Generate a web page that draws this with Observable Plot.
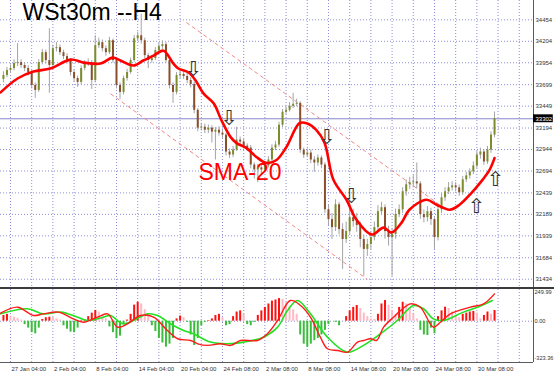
<!DOCTYPE html>
<html>
<head>
<meta charset="utf-8">
<script src="https://cdn.jsdelivr.net/npm/d3@7"></script>
<script src="https://cdn.jsdelivr.net/npm/@observablehq/plot@0.6"></script>
<style>
html,body{margin:0;padding:0;background:#fff;}
#chart{width:554px;height:373px;overflow:hidden;background:#fff;}
#chart svg{display:block;}
.sep{width:554px;height:2px;background:#3c3c3c;}
</style>
</head>
<body>
<div id="chart"></div>
<script>
// ---- Data ----
const title = "WSt30m --H4";
const priceTicks = [34454,34204,33954,33699,33449,33194,32944,32694,32439,32189,31939,31684,31434];
const currentPrice = 33302;
const timeLabels = ["27 Jan 04:00","2 Feb 04:00","8 Feb 04:00","14 Feb 04:00","20 Feb 04:00","24 Feb 08:00","2 Mar 08:00","8 Mar 08:00","14 Mar 08:00","20 Mar 08:00","24 Mar 08:00","30 Mar 08:00"];
const timeLabelBars = [2,14,26,38,50,62,74,86,98,110,122,134];
const gridBars = [2,8,14,20,26,32,38,44,50,56,62,68,74,80,86,92,98,104,110,116,122,128,134,140,146];

const O = [33760,33806,33864,33887,33945,33956,33922,33887,33841,33690,
33632,33956,34072,33980,33922,34118,34130,34072,34026,33980,
33841,33771,33725,33887,33945,33956,33748,34153,34188,34118,
34072,34211,33980,33690,33609,33771,33841,33980,34234,34269,
34211,34037,33980,34003,34095,34142,34165,33980,33690,33609,
33806,33818,33794,33748,33702,33401,33193,33204,33169,33193,
33146,33169,33135,33112,32915,32880,32938,33054,33031,32984,
32961,32764,32706,32730,32706,32753,32822,32961,32996,33227,
33378,33401,33447,33470,33482,32938,32880,32903,32822,32787,
32845,32764,32243,32128,32035,32301,32012,31896,31989,32151,
32105,32058,31896,31781,31838,31919,32035,32220,32267,31989,
31919,31954,32186,32243,32452,32533,32556,32567,32544,32186,
32151,32220,32128,31919,32243,32382,32452,32498,32521,32498,
32440,32591,32637,32683,32753,32880,32915,32799,32938,33112];
const H = [33850,33900,33930,33990,34176,33990,33950,33920,33870,33720,
33990,34110,34100,34350,34160,34190,34160,34100,34060,34000,
33870,33800,33920,33980,34000,33980,34269,34240,34220,34150,
34250,34230,34000,33720,33800,33880,34010,34270,34310,34520,
34240,34060,34040,34130,34180,34210,34190,34000,33720,33840,
33860,33850,33830,33780,33730,33420,33250,33240,33230,33220,
33200,33210,33170,33130,32950,32980,33204,33090,33060,33010,
32990,32790,32770,32760,32790,32860,33000,33040,33260,33410,
33440,33490,33598,33530,33500,32960,32950,32940,32860,32880,
32870,32790,32300,32200,32359,32330,32080,32100,32330,32250,
32200,32100,31950,31900,31980,32100,32290,32330,32300,32050,
32020,32250,32300,32500,32590,32620,32640,32787,32570,32240,
32280,32260,32150,32290,32430,32500,32560,32570,32560,32530,
32630,32680,32720,32800,32920,32960,32940,32980,33150,33380];
const L = [33720,33780,33830,33860,33910,33890,33850,33800,33650,33540,
33610,33930,33940,33598,33900,34080,34040,33990,33940,33800,
33730,33667,33700,33860,33910,33644,33720,34120,34080,34030,
34050,33950,33650,33528,33580,33740,33820,33960,34200,34170,
34000,33887,33950,33980,34060,34110,33950,33650,33482,33580,
33770,33760,33710,33660,33360,33150,33160,33130,33130,33020,
32822,33100,33070,32870,32840,32850,32920,32990,32950,32920,
32720,32600,32556,32660,32680,32730,32800,32930,32970,33200,
33350,33380,33420,33440,32900,32840,32850,32780,32680,32750,
32720,32200,32060,31896,31990,31950,31549,31850,31950,32040,
31980,31800,31468,31700,31780,31880,31990,32180,31900,31820,
31468,31900,32150,32200,32400,32480,32500,32490,32130,32090,
32100,32060,31781,31880,32200,32340,32420,32460,32450,32400,
32410,32560,32600,32650,32720,32830,32760,32770,32900,33080];
const C = [33806,33864,33887,33945,33956,33922,33887,33841,33690,33632,
33956,34072,33980,33922,34118,34130,34072,34026,33980,33841,
33771,33725,33887,33945,33956,33748,34153,34188,34118,34072,
34211,33980,33690,33609,33771,33841,33980,34234,34269,34211,
34037,33980,34003,34095,34142,34165,33980,33690,33609,33806,
33818,33794,33748,33702,33401,33193,33204,33169,33193,33146,
33169,33135,33112,32915,32880,32938,33054,33031,32984,32961,
32764,32706,32730,32706,32753,32822,32961,32996,33227,33378,
33401,33447,33470,33482,32938,32880,32903,32822,32787,32845,
32764,32243,32128,32035,32301,32012,31896,31989,32151,32105,
32058,31896,31781,31838,31919,32035,32220,32267,31989,31919,
31954,32186,32243,32452,32533,32556,32567,32544,32186,32151,
32220,32128,31919,32243,32382,32452,32498,32521,32498,32440,
32591,32637,32683,32753,32880,32915,32799,32938,33112,33302];

const smaIdx = [-0.8,4.0,8.5,13.3,19.0,22.7,27.5,30.9,33.1,36.8,39.6,42.5,45.3,48.1,49.5,52.4,54.4,56.6,59.5,61.7,64.3,66.0,68.8,71.6,74.5,77.3,80.1,83.8,85.8,88.6,90.9,93.4,97.1,99.9,104.2,107.6,109.8,112.7,114.9,119.7,122.6,126.3,129.1,132.5,135.6,137.6,139.0];
const smaVal = [33609,33771,33852,33887,33991,33956,33945,34014,33980,33922,33980,34037,34095,33945,33887,33841,33748,33598,33482,33285,33088,33019,32961,32857,32787,32822,32973,33250,33250,33169,33019,32591,32359,32128,31954,32035,31977,32093,32243,32359,32301,32243,32301,32440,32591,32706,32845];

const chanX1 = [51.8, 30.3], chanY1 = [34423, 33594];
const chanX2 = [125.4, 103.0], chanY2 = [32243, 31433];

const downArrowX = [53.8, 63.9, 91.6, 98.5], downArrowY = [33883, 33305, 33092, 32397];
const upArrowX = [133.8, 139.2], upArrowY = [32301, 32610];
const smaLabel = "SMA-20", smaLabelX = 55.2, smaLabelY = 32585;

const histVals = [50,60,45,35,25,10,-30,-60,-100,-110,-60,15,30,35,30,20,10,-40,-70,-95,
-100,-60,5,10,40,70,93,80,50,20,-50,-100,-153,-130,-20,10,60,140,165,150,
100,60,-40,-90,-150,-190,-226,-200,-150,20,45,30,-10,-120,-212,-150,-40,-10,5,20,
50,60,30,-40,-30,40,80,90,60,-30,-40,-10,50,90,120,150,175,185,197,190,
160,130,100,60,-120,-200,-226,-200,-170,-150,-120,-80,-30,0,-10,-40,0,40,90,120,
137,110,70,40,20,15,60,150,180,140,90,60,120,165,150,110,60,20,-80,-120,
-125,-60,-110,40,90,122,110,80,50,30,60,70,80,85,70,20,50,80,60,93];
const macdIdx = [-0.8,4,8.5,11.3,15.6,19.8,22.7,26.6,29.5,32.3,35.1,38.8,42.5,46.4,49.3,53,55,57.8,61.4,64.3,67.1,71.9,74.7,77.6,81.2,84.1,86.9,89.7,91.7,94.6,97.4,100.2,101.9,103.9,105.6,107.6,110.4,113,115.2,118,121.7,123.7,126.5,132.2,135.9,139];
const macdVal = [70,122,50,64,79,20,-9,35,64,-52,-23,50,35,-81,-153,-168,-197,-211,-197,-211,-168,-168,-110,6,180,137,35,-139,-240,-255,-270,-182,-168,-153,-168,-52,35,108,151,122,-52,-9,64,122,151,238];
const sigIdx = [-0.8,6.8,11.3,16.2,21,23.8,28.3,30.3,34,40.8,43.6,48.1,51,53.8,58.6,63.4,68,73.6,77.6,80.4,83.2,86.9,91.7,97.4,101.9,106.7,111.5,116.1,118.9,121.7,124.6,130.2,134.2,138.4];
const sigVal = [64,108,64,79,35,6,35,50,-23,64,50,-38,-81,-110,-182,-197,-182,-139,-52,93,180,64,-139,-270,-211,-110,6,137,108,20,6,79,122,180];
const oscTicks = [249.99, 0, -323.36];

// ---- Build tables ----
const bars = C.map((c, i) => ({i, o: O[i], h: H[i], l: L[i], c}));
const sma = smaIdx.map((x, k) => ({x, y: smaVal[k]}));
const channels = chanX1.map((x, k) => ({x1: x, y1: chanY1[k], x2: chanX2[k], y2: chanY2[k]}));
const downs = downArrowX.map((x, k) => ({x, y: downArrowY[k]}));
const ups = upArrowX.map((x, k) => ({x, y: upArrowY[k]}));
const hist = histVals.map((v, i) => ({i, v, col: v < 0 ? "#3cbc3c" : (i > 0 && v < histVals[i - 1] ? "#ffb8c4" : "#ff1010")}));
const macd = macdIdx.map((x, k) => ({x, y: macdVal[k]}));
const sig = sigIdx.map((x, k) => ({x, y: sigVal[k]}));

const xDomain = [-0.83, 150.03];
const gridColor = "#8e8ed8";
const font = "'Liberation Sans', Arial, sans-serif";

const main = Plot.plot({
  width: 554, height: 287,
  marginLeft: 0, marginRight: 21, marginTop: 0, marginBottom: 0,
  style: {fontFamily: font, background: "#fff", overflow: "visible"},
  x: {domain: xDomain, axis: null},
  y: {domain: [31337.5, 34679], axis: null, label: null},
  color: {type: "identity"},
  marks: [
    Plot.ruleY(priceTicks, {stroke: gridColor, strokeDasharray: "1,2"}),
    Plot.ruleX(gridBars, {stroke: gridColor, strokeDasharray: "1,2"}),
    Plot.ruleY([currentPrice], {stroke: "#8686cc", strokeWidth: 1}),
    Plot.link(channels, {x1: "x1", y1: "y1", x2: "x2", y2: "y2", stroke: "#f08888", strokeWidth: 1, strokeDasharray: "4,3"}),
    Plot.ruleX(bars, {x: "i", y1: "l", y2: "h", stroke: "#a4a4a4", strokeWidth: 1}),
    Plot.ruleX(bars, {x: "i", y1: "o", y2: "c", stroke: d => d.c >= d.o ? "#7b8c2c" : "#8a4e2a", strokeWidth: 2}),
    Plot.line(sma, {x: "x", y: "y", stroke: "#ff0000", strokeWidth: 2.6, curve: "catmull-rom"}),
    Plot.text(downs, {x: "x", y: "y", text: () => "⇩", fontFamily: "DejaVu Sans", fontSize: 21, fill: "#333"}),
    Plot.text(ups, {x: "x", y: "y", text: () => "⇩", rotate: 180, fontFamily: "DejaVu Sans", fontSize: 21, fill: "#333"}),
    Plot.text([smaLabel], {x: smaLabelX, y: smaLabelY, textAnchor: "start", lineAnchor: "bottom", fontSize: 23, fill: "#ff0000"}),
    Plot.text([title], {frameAnchor: "top-left", dx: 22, dy: 3, textAnchor: "start", lineAnchor: "top", fontSize: 23, fill: "#000"}),
    Plot.ruleX([xDomain[1]], {stroke: "#5a5a5a"}),
    Plot.axisY(priceTicks, {anchor: "right", tickSize: 0, tickPadding: 2, fontSize: 6, fill: "#333", tickFormat: d => String(d), label: null}),
    Plot.rect([currentPrice], {x1: xDomain[1], x2: xDomain[1] + 5.6, y1: d => d - 46, y2: d => d + 46, fill: "#000"}),
    Plot.text([currentPrice], {x: xDomain[1], y: d => d, text: d => String(d), textAnchor: "start", dx: 2, fontSize: 6, fill: "#fff"})
  ]
});

const lower = Plot.plot({
  width: 554, height: 84,
  marginLeft: 0, marginRight: 21, marginTop: 0, marginBottom: 11,
  style: {fontFamily: font, background: "#fff", overflow: "visible"},
  x: {domain: xDomain, axis: null},
  y: {domain: [-359.8, 276.1], axis: null, label: null},
  color: {type: "identity"},
  marks: [
    Plot.ruleX(gridBars, {stroke: gridColor, strokeDasharray: "1,2"}),
    Plot.ruleY([0], {stroke: gridColor, strokeDasharray: "1,2"}),
    Plot.ruleX(hist, {x: "i", y1: 0, y2: "v", stroke: "col", strokeWidth: 2}),
    Plot.line(sig, {x: "x", y: "y", stroke: "#22e022", strokeWidth: 1.6, curve: "catmull-rom"}),
    Plot.line(macd, {x: "x", y: "y", stroke: "#ff1a1a", strokeWidth: 1.4, curve: "catmull-rom"}),
    Plot.ruleY([-359.8], {stroke: "#5a5a5a"}),
    Plot.ruleX([xDomain[1]], {stroke: "#5a5a5a"}),
    Plot.axisY(oscTicks, {anchor: "right", tickSize: 0, tickPadding: 1, fontSize: 5.6, fill: "#333", tickFormat: d => d.toFixed(2), label: null}),
    Plot.text(timeLabelBars, {x: d => d, text: (d, i) => timeLabels[i], frameAnchor: "bottom", textAnchor: "start", lineAnchor: "top", dy: 4, dx: 1, fontSize: 6, fill: "#333"})
  ]
});

const root = document.getElementById("chart");
root.appendChild(main);
const sep = document.createElement("div");
sep.className = "sep";
root.appendChild(sep);
root.appendChild(lower);
</script>
</body>
</html>
